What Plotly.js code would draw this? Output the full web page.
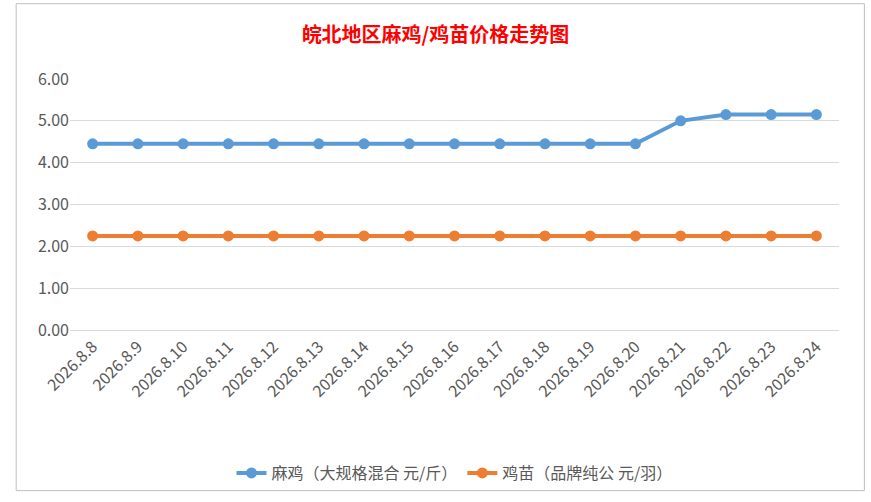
<!DOCTYPE html>
<html><head><meta charset="utf-8">
<script src="https://cdn.plot.ly/plotly-3.0.1.min.js"></script>
<style>body{margin:0}#plot{width:871px;height:502px}</style>
</head><body><div id="plot"></div>
<script>
var dates = ["2026.8.8","2026.8.9","2026.8.10","2026.8.11","2026.8.12","2026.8.13","2026.8.14","2026.8.15","2026.8.16","2026.8.17","2026.8.18","2026.8.19","2026.8.20","2026.8.21","2026.8.22","2026.8.23","2026.8.24"];
var maji = [4.45,4.45,4.45,4.45,4.45,4.45,4.45,4.45,4.45,4.45,4.45,4.45,4.45,5.0,5.15,5.15,5.15];
var jimiao = [2.25,2.25,2.25,2.25,2.25,2.25,2.25,2.25,2.25,2.25,2.25,2.25,2.25,2.25,2.25,2.25,2.25];

var trace1 = {
  x: dates, y: maji, name: "麻鸡（大规格混合 元/斤）",
  type: "scatter", mode: "lines+markers",
  line: {color: "#5b9bd5", width: 4},
  marker: {color: "#5b9bd5", size: 11}
};
var trace2 = {
  x: dates, y: jimiao, name: "鸡苗（品牌纯公 元/羽）",
  type: "scatter", mode: "lines+markers",
  line: {color: "#ed7d31", width: 4},
  marker: {color: "#ed7d31", size: 11}
};

var layout = {
  width: 871, height: 502,
  font: {family: "Noto Sans CJK SC, Noto Sans, sans-serif", color: "#595959", size: 16},
  title: {text: "<b>皖北地区麻鸡/鸡苗价格走势图</b>", font: {color: "#ff0000", size: 20}, x: 0.5, y: 0.93, yanchor: "middle"},
  margin: {l: 70, r: 32, t: 79, b: 165},
  paper_bgcolor: "#fff", plot_bgcolor: "#fff",
  xaxis: {type: "category", range: [-0.5, 16.5], tickangle: -45, showgrid: false, showline: true, linecolor: "#d9d9d9", ticks: "", tickfont: {size: 16}},
  yaxis: {range: [0, 6], dtick: 1, tickformat: ".2f", gridcolor: "#d9d9d9", zeroline: false, ticks: "", tickfont: {size: 16}},
  legend: {orientation: "h", x: 0.5, xanchor: "center", y: -0.57, yanchor: "middle", font: {size: 16}},
  showlegend: true,
  shapes: [{type: "rect", xref: "paper", yref: "paper", x0: -0.07, x1: 1.033, y0: -0.64, y1: 1.3, line: {color: "#bfbfbf", width: 1}}]
};

Plotly.newPlot("plot", [trace1, trace2], layout, {displayModeBar: false});
</script></body></html>
